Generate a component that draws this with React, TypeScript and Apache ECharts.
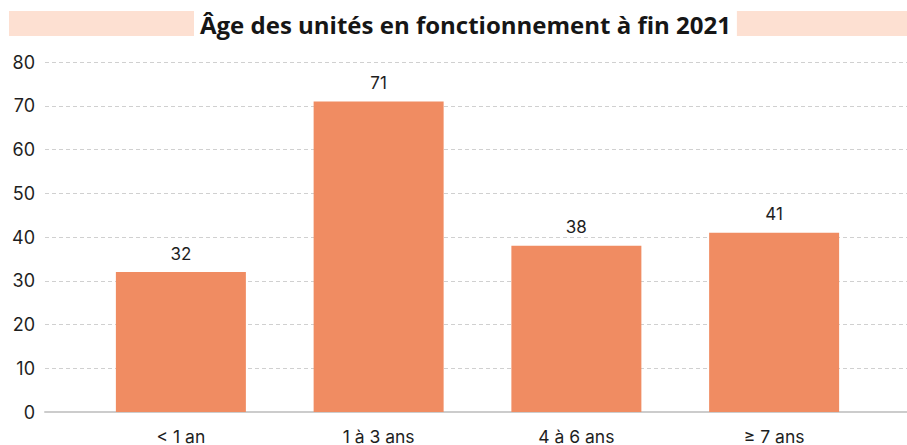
import React, { useEffect, useRef } from "react";
import * as echarts from "echarts";

const TITLE = "Âge des unités en fonctionnement à fin 2021";
const categories = ["< 1 an", "1 à 3 ans", "4 à 6 ans", "≥ 7 ans"];
const values = [32, 71, 38, 41];
const yTicks = { min: 0, max: 80, interval: 10 };

const FONT = "Inter, 'Noto Sans', sans-serif";

export default function App() {
  const ref = useRef<HTMLDivElement>(null);
  useEffect(() => {
    document.body.style.margin = "0";
    const chart = echarts.init(ref.current!, null, { renderer: "svg" });
    chart.setOption({
      animation: false,
      backgroundColor: "#ffffff",
      title: {
        text: TITLE,
        left: 194,
        top: 9,
        padding: [2, 6, 2, 6],
        backgroundColor: "#ffffff",
        z: 10,
        textStyle: {
          fontFamily: "'Open Sans', sans-serif",
          fontWeight: "bold",
          fontSize: 24,
          color: "#161616",
          lineHeight: 26,
        },
      },
      graphic: [
        {
          type: "rect",
          z: 1,
          shape: { x: 9, y: 11, width: 898, height: 25 },
          style: { fill: "#fde0d2" },
        },
      ],
      grid: [
        { left: 45, right: 0, top: 62, bottom: 33 },
        { left: 82, right: 34, top: 62, bottom: 33 },
      ],
      xAxis: [
        {
          gridIndex: 0,
          type: "category",
          data: [""],
          axisLine: { show: true, lineStyle: { color: "#cccccc", width: 2 } },
          axisTick: { show: false },
          axisLabel: { show: false },
        },
        {
          gridIndex: 1,
          type: "category",
          data: categories,
          axisLine: { show: false },
          axisTick: { show: false },
          axisLabel: {
            margin: 15,
            fontSize: 17.5,
            color: "#1e1e1e",
            fontFamily: FONT,
          },
        },
      ],
      yAxis: [
        {
          gridIndex: 0,
          type: "value",
          min: yTicks.min,
          max: yTicks.max,
          interval: yTicks.interval,
          axisLine: { show: false },
          axisTick: { show: false },
          axisLabel: {
            margin: 10,
            fontSize: 18,
            color: "#1e1e1e",
            fontFamily: FONT,
          },
          splitLine: {
            show: true,
            lineStyle: { color: "#d0d0d0", type: [4, 3], width: 1 },
          },
        },
        {
          gridIndex: 1,
          type: "value",
          min: yTicks.min,
          max: yTicks.max,
          interval: yTicks.interval,
          show: false,
          splitLine: { show: false },
        },
      ],
      series: [
        {
          type: "bar",
          xAxisIndex: 1,
          yAxisIndex: 1,
          data: values,
          barWidth: 130,
          itemStyle: { color: "#f08c62" },
          label: {
            show: true,
            position: "top",
            distance: 10,
            fontSize: 17,
            color: "#1e1e1e",
            fontFamily: FONT,
          },
        },
      ],
    });
    return () => chart.dispose();
  }, []);
  return <div ref={ref} style={{ width: 907, height: 445 }} />;
}
